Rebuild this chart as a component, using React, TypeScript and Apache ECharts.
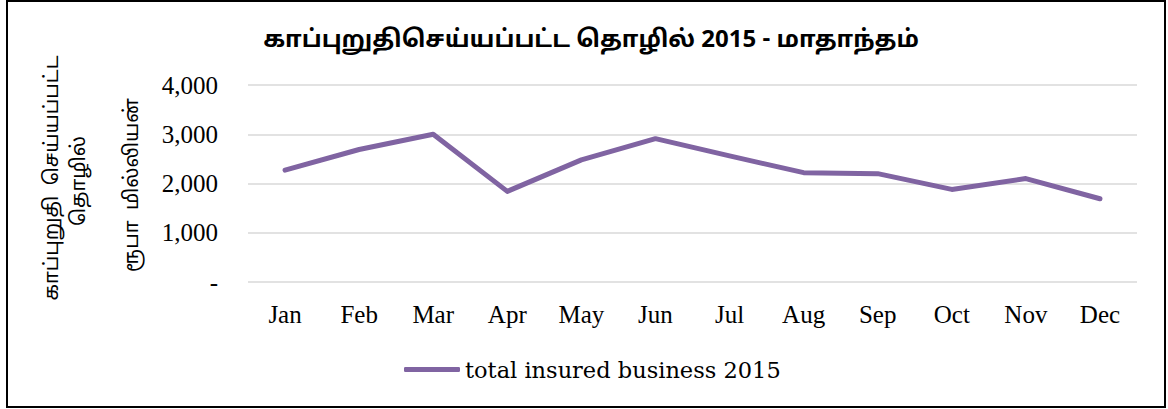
import React, { useEffect, useRef } from "react";
import * as echarts from "echarts";

const categories = ["Jan", "Feb", "Mar", "Apr", "May", "Jun", "Jul", "Aug", "Sep", "Oct", "Nov", "Dec"];
const values = [2270, 2690, 3000, 1840, 2480, 2910, 2560, 2220, 2200, 1880, 2100, 1690];
const seriesName = "total insured business 2015";
const titleText = "காப்புறுதிசெய்யப்பட்ட தொழில் 2015 - மாதாந்தம்";
const yTitleLine1 = "காப்புறுதி  செய்யப்பட்ட";
const yTitleLine2 = "தொழில்";
const yTitleLine3 = "ரூபா  மில்லியன்";

export default function App() {
  const ref = useRef<HTMLDivElement>(null);
  useEffect(() => {
    if (!ref.current) return;
    const chart = echarts.init(ref.current, undefined, { renderer: "svg" });
    const tamilFont = "'Noto Sans Tamil', 'Noto Sans', 'DejaVu Sans', sans-serif";
    chart.setOption({
      animation: false,
      backgroundColor: "#ffffff",
      title: {
        text: titleText,
        left: 586,
        top: 24,
        textAlign: "center",
        textStyle: { fontFamily: tamilFont, fontWeight: "bold", fontSize: 24, color: "#000" },
      },
      grid: { left: 248, right: 31, top: 85, bottom: 127, containLabel: false },
      legend: {
        data: [seriesName],
        left: 399,
        top: 353,
        itemWidth: 56,
        itemHeight: 5,
        itemGap: 2,
        icon: "roundRect",
        textStyle: { fontFamily: "DejaVu Serif", fontSize: 22.5, color: "#000" },
      },
      xAxis: {
        type: "category",
        data: categories,
        boundaryGap: true,
        axisLine: { show: false },
        axisTick: { show: false },
        axisLabel: { fontFamily: "'Liberation Serif', serif", fontSize: 25, color: "#000", margin: 20 },
      },
      yAxis: {
        type: "value",
        min: 0,
        max: 4000,
        interval: 1000,
        axisLine: { show: false },
        axisTick: { show: false },
        splitLine: { lineStyle: { color: "#d9d9d9", width: 1.5 } },
        axisLabel: {
          fontFamily: "'Liberation Serif', serif",
          fontSize: 25,
          color: "#000",
          margin: 30,
          formatter: (v: number) => (v === 0 ? "-" : v.toLocaleString("en-US")),
        },
      },
      graphic: [
        {
          type: "rect",
          shape: { x: 7, y: 1, width: 1158, height: 406 },
          style: { fill: "none", stroke: "#000", lineWidth: 2 },
          silent: true,
        },
        {
          type: "text",
          x: 53,
          y: 178,
          rotation: Math.PI / 2,
          style: { text: yTitleLine1, fontFamily: tamilFont, fontSize: 20, fill: "#000", align: "center", verticalAlign: "middle" },
        },
        {
          type: "text",
          x: 80,
          y: 181,
          rotation: Math.PI / 2,
          style: { text: yTitleLine2, fontFamily: tamilFont, fontSize: 20, fill: "#000", align: "center", verticalAlign: "middle" },
        },
        {
          type: "text",
          x: 133,
          y: 185,
          rotation: Math.PI / 2,
          style: { text: yTitleLine3, fontFamily: tamilFont, fontSize: 20, fill: "#000", align: "center", verticalAlign: "middle" },
        },
      ],
      series: [
        {
          name: seriesName,
          type: "line",
          data: values,
          showSymbol: false,
          symbol: "none",
          lineStyle: { color: "#8064a2", width: 5, cap: "round", join: "round" },
          itemStyle: { color: "#8064a2" },
        },
      ],
    });
    return () => chart.dispose();
  }, []);
  return <div ref={ref} style={{ width: 1168, height: 409, position: "absolute", left: 0, top: 0 }} />;
}
